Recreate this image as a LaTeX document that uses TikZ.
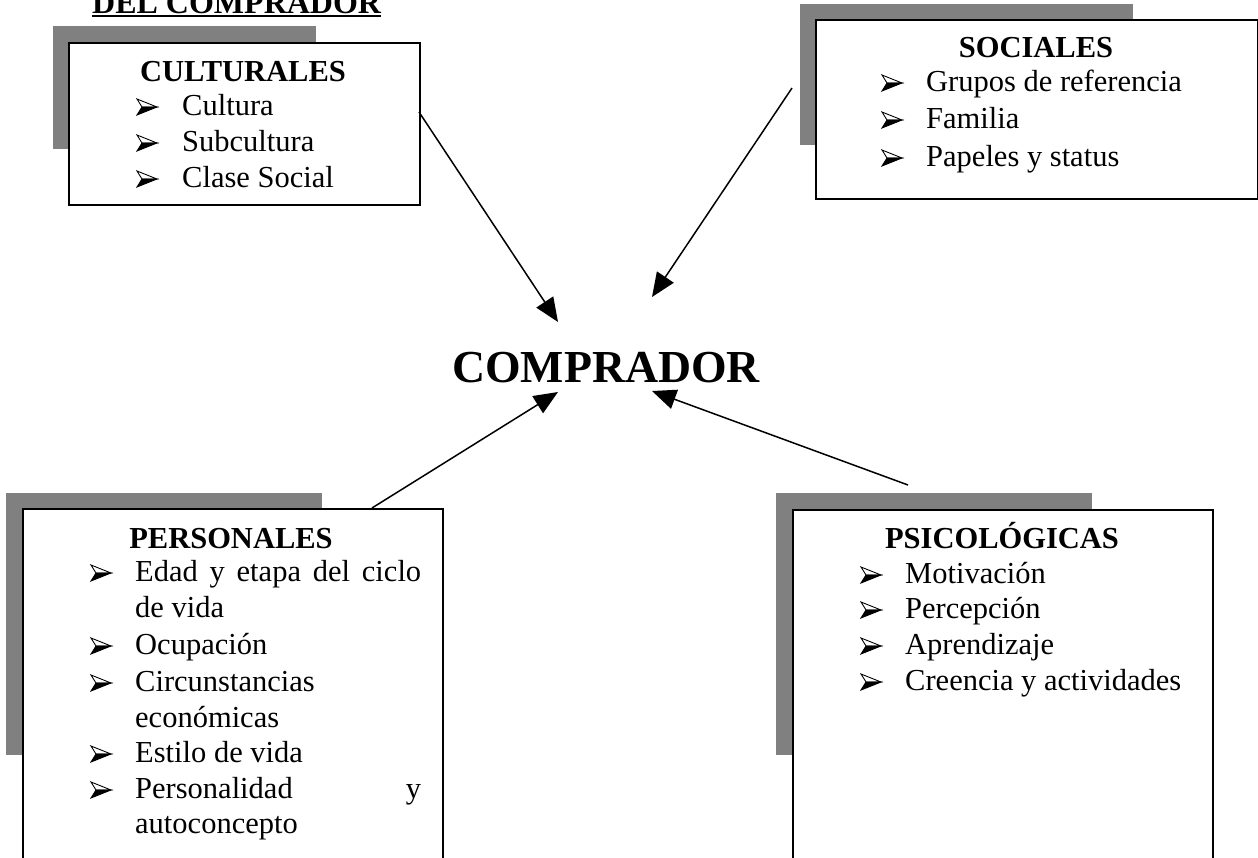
\documentclass[tikz,border=0pt]{standalone}
\usepackage{fontspec}
\setmainfont{Liberation Serif}
\usetikzlibrary{arrows.meta}
\definecolor{shadowgray}{RGB}{128,128,128}
\newcommand{\bodysize}{\fontsize{30.5}{36}\selectfont}
\begin{document}
\begin{tikzpicture}[x=1pt,y=-1pt,
  frame/.style={draw, line width=1.8pt, fill=white, anchor=north west, inner sep=0pt},
  shadowbox/.style={fill=shadowgray},
  head/.style={anchor=base, inner sep=0pt, font=\bodysize\bfseries},
  itemtext/.style={anchor=base west, inner sep=0pt, font=\bodysize},
  link/.style={line width=1.5pt, -{Triangle[length=24pt,width=20pt]}},
  % three-dimensional arrowhead bullet, origin on the baseline at its left
  arrowbullet/.pic={
    \filldraw[fill=white, line width=0.9pt, line join=miter] (0,-16) -- (20,-8) -- (5,-8) -- cycle;
    \filldraw[fill=black, line width=0.9pt, line join=miter] (5,-8) -- (20,-8) -- (0,0) -- cycle;
  }]
\useasboundingbox (0,0) rectangle (1258,857);

% title (partly above the page)
\node[anchor=base west, inner sep=0pt, font=\fontsize{32}{38}\selectfont\bfseries] (title) at (92,13) {DEL COMPRADOR};
\draw[line width=2pt] (title.base west) ++(0,3) -- ([yshift=-3pt]title.base east);

% shadows
\fill[shadowbox] (53,26) rectangle (316,149);
\fill[shadowbox] (800,4) rectangle (1133,145);
\fill[shadowbox] (6,493) rectangle (322,755);
\fill[shadowbox] (776,493) rectangle (1092,755);

% frames
\node[frame, minimum width=351pt, minimum height=162pt] (cult) at (68,42) {};
\node[frame, minimum width=442pt, minimum height=179pt] (soc) at (815,19) {};
\node[frame, minimum width=420pt, minimum height=380pt] (pers) at (22,508) {};
\node[frame, minimum width=420pt, minimum height=380pt] (psic) at (792,509) {};

% CULTURALES
\node[head] (cult-h) at (243,81) {CULTURALES};
\pic at (137,115) {arrowbullet};
\node[itemtext] (cult-1) at (182,115) {Cultura};
\pic at (137,151) {arrowbullet};
\node[itemtext] (cult-2) at (182,151) {Subcultura};
\pic at (137,187) {arrowbullet};
\node[itemtext] (cult-3) at (182,187) {Clase Social};

% SOCIALES
\node[head] (soc-h) at (1036,57) {SOCIALES};
\pic at (882,91) {arrowbullet};
\node[itemtext] (soc-1) at (926,91) {Grupos de referencia};
\pic at (882,128) {arrowbullet};
\node[itemtext] (soc-2) at (926,128) {Familia};
\pic at (882,166) {arrowbullet};
\node[itemtext] (soc-3) at (926,166) {Papeles y status};

% PERSONALES
\node[head] (pers-h) at (231,548) {PERSONALES};
\pic at (91,581) {arrowbullet};
\node[itemtext] (pers-1) at (135,581) {\makebox[286pt][s]{Edad y etapa del ciclo}};
\node[itemtext] (pers-1b) at (135,617) {de vida};
\pic at (91,654) {arrowbullet};
\node[itemtext] (pers-2) at (135,654) {Ocupación};
\pic at (91,691) {arrowbullet};
\node[itemtext] (pers-3) at (135,691) {Circunstancias};
\node[itemtext] (pers-3b) at (135,727) {económicas};
\pic at (91,762) {arrowbullet};
\node[itemtext] (pers-4) at (135,762) {Estilo de vida};
\pic at (91,798) {arrowbullet};
\node[itemtext] (pers-5) at (135,798) {\makebox[286pt][s]{Personalidad\hfill y}};
\node[itemtext] (pers-5b) at (135,833) {autoconcepto};

% PSICOLOGICAS
\node[head] (psic-h) at (1002,548) {PSICOLÓGICAS};
\pic at (861,583) {arrowbullet};
\node[itemtext] (psic-1) at (905,583) {Motivación};
\pic at (861,618) {arrowbullet};
\node[itemtext] (psic-2) at (905,618) {Percepción};
\pic at (861,654) {arrowbullet};
\node[itemtext] (psic-3) at (905,654) {Aprendizaje};
\pic at (861,690) {arrowbullet};
\node[itemtext] (psic-4) at (905,690) {Creencia y actividades};

% centre
\node[anchor=base, inner sep=0pt, font=\fontsize{45.8}{52}\selectfont\bfseries] (comp) at (606,382) {COMPRADOR};

% connector ends
\coordinate (cult-out) at (419,112);
\coordinate (soc-out) at (792,88);
\coordinate (pers-out) at (372,508);
\coordinate (psic-out) at (908,485);
\coordinate (comp-nw) at (558,322);
\coordinate (comp-ne) at (652,297);
\coordinate (comp-sw) at (558,392);
\coordinate (comp-se) at (652,391);

\draw[link] (cult-out) -- (comp-nw);
\draw[link] (soc-out) -- (comp-ne);
\draw[link] (pers-out) -- (comp-sw);
\draw[link] (psic-out) -- (comp-se);
\end{tikzpicture}
\end{document}
